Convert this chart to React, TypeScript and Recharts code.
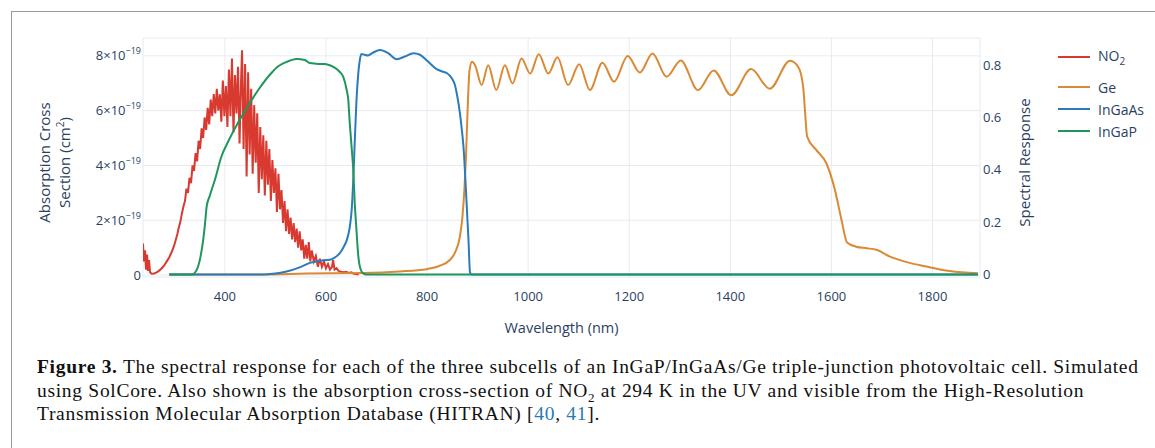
import { LineChart, Line, XAxis, YAxis, CartesianGrid, Legend } from 'recharts';

// wavelength axis (nm)
const X_DOMAIN = [238, 1894];
const X_TICKS = [400, 600, 800, 1000, 1200, 1400, 1600, 1800];
// left axis in units of 1e-19 cm^2
const LEFT_TICKS = [0, 2, 4, 6, 8];
const RIGHT_TICKS = [0, 0.2, 0.4, 0.6, 0.8];
const LEGEND_ORDER = ['NO2', 'Ge', 'InGaAs', 'InGaP'];

// NO2 absorption cross section, [nm, x1e-19 cm^2] (HITRAN, 294 K)
const NO2 = [
  [238, 1.15], [240, 0.5], [242, 0.9], [244, 0.2], [246, 0.75], [248, 0.15], [250, 0.55], [252, 0.1],
  [255, 0.05], [260, 0.06], [265, 0.1], [270, 0.16], [275, 0.25], [280, 0.35], [285, 0.5], [290, 0.65],
  [295, 0.85], [300, 1.1], [303, 1.3], [306, 1.5], [309, 1.75], [312, 1.95], [315, 2.25], [318, 2.5],
  [321, 2.7], [324, 3.15], [327, 3.0], [330, 3.55], [333, 3.35], [336, 4.0], [339, 3.8], [342, 4.45],
  [345, 4.15], [348, 4.9], [351, 4.6], [354, 5.35], [357, 5.0], [360, 5.75], [363, 5.3], [366, 6.1],
  [369, 5.5], [372, 6.4], [375, 5.8], [378, 6.6], [381, 5.9], [384, 6.8], [387, 6.0], [390, 6.6],
  [393, 5.6], [396, 7.1], [399, 5.8], [402, 6.9], [405, 5.4], [408, 7.5], [411, 5.8], [414, 7.9],
  [417, 5.2], [420, 7.3], [423, 5.9], [426, 7.6], [429, 4.8], [432, 7.1], [434, 8.2], [437, 4.6],
  [440, 7.7], [443, 3.6], [446, 7.4], [449, 4.4], [452, 6.8], [455, 3.7], [458, 6.2], [461, 4.1],
  [464, 5.9], [467, 3.0], [470, 5.4], [473, 3.5], [476, 5.1], [479, 2.9], [482, 4.9], [485, 3.3],
  [488, 4.6], [491, 2.7], [494, 4.2], [497, 3.0], [500, 3.9], [503, 2.3], [506, 3.7], [509, 2.4],
  [512, 3.1], [515, 1.9], [518, 2.7], [521, 1.6], [524, 2.4], [527, 1.5], [530, 2.1], [533, 1.3],
  [536, 1.9], [539, 1.2], [542, 1.7], [545, 1.0], [548, 1.6], [551, 0.9], [554, 1.3], [557, 0.6],
  [560, 1.1], [563, 0.6], [566, 1.2], [569, 0.5], [572, 0.9], [576, 0.5], [580, 0.7], [584, 0.3],
  [588, 0.6], [592, 0.3], [596, 0.5], [600, 0.25], [604, 0.4], [608, 0.2], [612, 0.3], [614, 0.55],
  [617, 0.2], [621, 0.25], [625, 0.15], [630, 0.12], [635, 0.1], [640, 0.12], [645, 0.08], [650, 0.1],
  [655, 0.05], [660, 0.04], [665, 0.02],
];

// spectral response of the subcells, [nm, response]
const GE = [
  [290, 0], [480, 0], [560, 0.003], [673, 0.005], [746, 0.011], [799, 0.02], [825, 0.033], [845, 0.055],
  [855, 0.082], [865, 0.145], [870, 0.22], [874, 0.33], [877, 0.45], [880, 0.617], [884, 0.78], [889, 0.813],
  [895, 0.8], [908, 0.724], [921, 0.8], [937, 0.705], [954, 0.8], [969, 0.73], [987, 0.826], [1004, 0.768],
  [1021, 0.842], [1040, 0.768], [1058, 0.83], [1079, 0.724], [1101, 0.804], [1122, 0.705], [1147, 0.809],
  [1170, 0.737], [1197, 0.835], [1221, 0.772], [1246, 0.845], [1274, 0.756], [1302, 0.818], [1336, 0.705],
  [1367, 0.78], [1402, 0.685], [1441, 0.785], [1478, 0.71], [1518, 0.817], [1532, 0.8], [1540, 0.765],
  [1545, 0.7], [1548, 0.617], [1552, 0.527], [1570, 0.476], [1590, 0.425], [1607, 0.323], [1620, 0.208],
  [1631, 0.122], [1649, 0.106], [1670, 0.1], [1689, 0.094], [1716, 0.068], [1749, 0.047], [1788, 0.03],
  [1834, 0.013], [1890, 0.004],
];

const INGAAS = [
  [290, 0], [480, 0], [500, 0.003], [520, 0.01], [548, 0.027], [568, 0.044], [588, 0.052], [608, 0.056],
  [618, 0.065], [627, 0.08], [635, 0.105], [641, 0.13], [647, 0.18], [651, 0.25], [654, 0.36], [657, 0.51],
  [660, 0.65], [664, 0.77], [667, 0.82], [670, 0.843], [676, 0.84], [683, 0.837], [693, 0.848], [707, 0.858],
  [723, 0.846], [740, 0.823], [756, 0.833], [773, 0.846], [786, 0.84], [802, 0.814], [819, 0.785],
  [830, 0.776], [839, 0.77], [849, 0.75], [855, 0.725], [859, 0.69], [865, 0.617], [869, 0.55], [872, 0.49],
  [877, 0.32], [882, 0.13], [885, 0.008], [888, 0], [1890, 0],
];

const INGAP = [
  [290, 0], [335, 0], [342, 0.01], [347, 0.03], [352, 0.07], [357, 0.13], [361, 0.2], [364, 0.26],
  [370, 0.3], [380, 0.36], [393, 0.45], [407, 0.51], [426, 0.58], [446, 0.645], [466, 0.705], [492, 0.77],
  [505, 0.795], [519, 0.81], [542, 0.824], [558, 0.82], [568, 0.808], [585, 0.805], [598, 0.805],
  [610, 0.798], [618, 0.79], [627, 0.775], [634, 0.756], [641, 0.705], [644, 0.67], [647, 0.58], [651, 0.48],
  [654, 0.4], [657, 0.27], [660, 0.18], [664, 0.07], [667, 0.03], [673, 0.005], [680, 0], [1890, 0],
];

const COLORS = { no2: '#d83a30', ge: '#da8a34', ingaas: '#2b7bba', ingap: '#1f975c' };
const FONT = '"Open Sans", sans-serif';
const INK = '#2a3f5f';
const GRID = '#e6ebf2';

const toPoints = (rows: number[][]) => rows.map(([x, y]) => ({ x, y }));

const LeftTick = ({ x, y, payload }: any) => {
  const v = payload.value;
  return (
    <text x={x} y={y} dy={4.5} textAnchor="end" fill={INK} fontSize={13} fontFamily={FONT}>
      {v === 0 ? '0' : (
        <>
          <tspan>{v}×10</tspan>
          <tspan dy={-6} fontSize={9}>−19</tspan>
        </>
      )}
    </text>
  );
};

const LeftTitle = ({ viewBox }: any) => {
  const cy = viewBox.y + viewBox.height / 2 + 5;
  return (
    <g fill={INK} fontSize={15} fontFamily={FONT}>
      <text x={50} y={cy} textAnchor="middle" transform={`rotate(-90 50 ${cy})`}>Absorption Cross</text>
      <text x={70} y={cy} textAnchor="middle" transform={`rotate(-90 70 ${cy})`}>
        Section (cm<tspan dy={-6} fontSize={10}>2</tspan><tspan dy={6}>)</tspan>
      </text>
    </g>
  );
};

const RightTitle = ({ viewBox }: any) => {
  const cy = viewBox.y + viewBox.height / 2 + 5;
  return (
    <text x={1030} y={cy} textAnchor="middle" transform={`rotate(-90 1030 ${cy})`}
      fill={INK} fontSize={15} fontFamily={FONT}>Spectral Response</text>
  );
};

const XTitle = ({ viewBox }: any) => (
  <text x={viewBox.x + viewBox.width / 2} y={333} textAnchor="middle" fill={INK} fontSize={14.5} fontFamily={FONT}>
    Wavelength (nm)
  </text>
);

const LegendBox = ({ payload }: any) => {
  const items = [...(payload || [])].sort(
    (a: any, b: any) => LEGEND_ORDER.indexOf(a.value) - LEGEND_ORDER.indexOf(b.value),
  );
  return (
    <div style={{ fontFamily: FONT, fontSize: 14, color: INK }}>
      {items.map((entry: any, i: number) => (
        <div key={entry.value} style={{ display: 'flex', alignItems: 'center', height: 22, marginBottom: i === 0 ? 8 : 0 }}>
          <svg width={32} height={4} style={{ marginRight: 8 }}>
            <line x1={0} x2={32} y1={2} y2={2} stroke={entry.color} strokeWidth={2} />
          </svg>
          {entry.value === 'NO2' ? <span>NO<sub style={{ fontSize: 10 }}>2</sub></span> : entry.value}
        </div>
      ))}
    </div>
  );
};

export default function App() {
  return (
    <div style={{ position: 'absolute', left: 0, top: 0, width: 1155, height: 448, background: '#fff', overflow: 'hidden' }}>
      <div style={{ position: 'absolute', left: 11, top: 11, width: 1200, height: 500, borderTop: '1px solid #9a9a9a', borderLeft: '1px solid #9a9a9a' }} />
      <div style={{ position: 'absolute', left: 0, top: 0 }}>
        <LineChart width={1155} height={340} margin={{ top: 38, right: 115, bottom: 33, left: 63 }}>
          <CartesianGrid yAxisId="left" stroke={GRID} strokeWidth={1} />
          <XAxis dataKey="x" type="number" domain={X_DOMAIN} ticks={X_TICKS} allowDataOverflow
            axisLine={false} tickLine={false} tickSize={0} tickMargin={15} height={30}
            tick={{ fill: INK, fontSize: 13, fontFamily: FONT }} label={<XTitle />} />
          <YAxis yAxisId="left" type="number" domain={[-0.07, 8.65]} ticks={LEFT_TICKS} allowDataOverflow
            width={80} axisLine={false} tickLine={false} tickSize={0} tickMargin={2}
            tick={<LeftTick />} label={<LeftTitle />} />
          <YAxis yAxisId="right" orientation="right" type="number" domain={[-0.01, 0.904]} ticks={RIGHT_TICKS} allowDataOverflow
            width={60} axisLine={false} tickLine={false} tickSize={0} tickMargin={3}
            tickFormatter={(v: number) => (v === 0 ? '0' : v.toFixed(1))}
            tick={{ fill: INK, fontSize: 13, fontFamily: FONT, textAnchor: 'start' }} label={<RightTitle />} />
          <Legend layout="vertical" align="center" verticalAlign="middle" content={<LegendBox />}
            wrapperStyle={{ left: 1058, top: 46, width: 100 }} />
          <Line yAxisId="left" data={toPoints(NO2)} dataKey="y" name="NO2" type="linear"
            stroke={COLORS.no2} strokeWidth={2} dot={false} isAnimationActive={false} />
          <Line yAxisId="right" data={toPoints(GE)} dataKey="y" name="Ge" type="monotone"
            stroke={COLORS.ge} strokeWidth={2} dot={false} isAnimationActive={false} />
          <Line yAxisId="right" data={toPoints(INGAAS)} dataKey="y" name="InGaAs" type="monotone"
            stroke={COLORS.ingaas} strokeWidth={2} dot={false} isAnimationActive={false} />
          <Line yAxisId="right" data={toPoints(INGAP)} dataKey="y" name="InGaP" type="monotone"
            stroke={COLORS.ingap} strokeWidth={2} dot={false} isAnimationActive={false} />
        </LineChart>
      </div>
      <div style={{ position: 'absolute', left: 37, top: 355, fontFamily: '"Liberation Serif", serif', fontSize: 19.5, letterSpacing: 0.7, lineHeight: '23.5px', color: '#111', whiteSpace: 'nowrap' }}>
        <div><b>Figure 3.</b> The spectral response for each of the three subcells of an InGaP/InGaAs/Ge triple-junction photovoltaic cell. Simulated</div>
        <div>using SolCore. Also shown is the absorption cross-section of NO<sub style={{ fontSize: 13, lineHeight: 0 }}>2</sub> at 294 K in the UV and visible from the High-Resolution</div>
        <div>Transmission Molecular Absorption Database (HITRAN) [<span style={{ color: '#2a7ab0' }}>40</span>, <span style={{ color: '#2a7ab0' }}>41</span>].</div>
      </div>
    </div>
  );
}
